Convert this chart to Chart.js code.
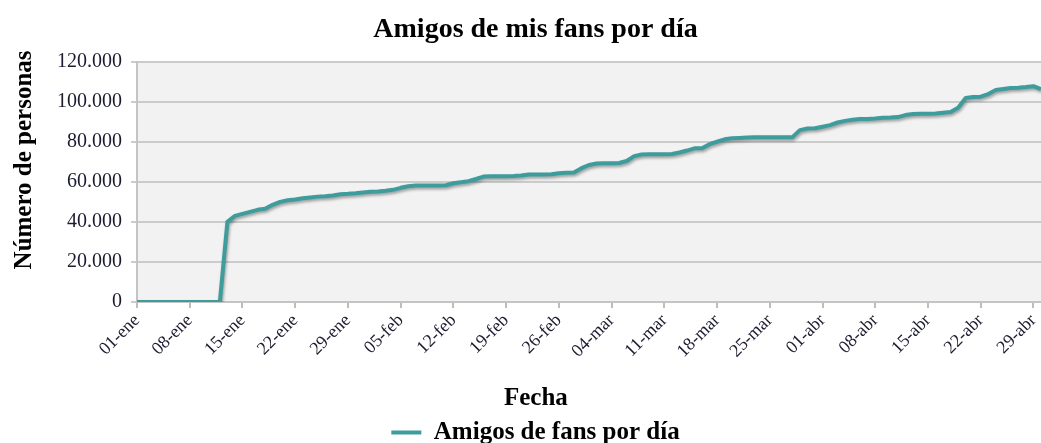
<!DOCTYPE html>
<html>
<head>
<meta charset="utf-8">
<script src="https://cdn.jsdelivr.net/npm/chart.js@4"></script>
<style>
  html, body { margin: 0; padding: 0; background: #fff; }
  #wrap { width: 1041px; height: 443px; }
</style>
</head>
<body>
<div id="wrap"><canvas id="grafico"></canvas></div>
<script>
// Meses y días por mes (2012, año bisiesto)
const meses = ['ene', 'feb', 'mar', 'abr'];
const diasPorMes = [31, 29, 31, 30];

// Etiquetas diarias 01-ene ... 30-abr
const fechas = [];
meses.forEach((m, i) => {
    for (let d = 1; d <= diasPorMes[i]; d++) {
        fechas.push(String(d).padStart(2, '0') + '-' + m);
    }
});

// Amigos de fans por día
const amigos = [
    0, 0, 0, 0, 0, 0, 0, 0, 0, 0, 0, 0,
    40000, 43000, 44000, 45000, 46000, 46500, 48500, 50000, 50800, 51200,
    51800, 52200, 52600, 52800, 53200, 53800, 54000, 54300, 54700, 55000,
    55200, 55500, 56000, 57000, 57800, 58200, 58200, 58200, 58200, 58300,
    59300, 59800, 60300, 61400, 62600, 62800, 62800, 62800, 62900, 63100,
    63600, 63700, 63700, 63800, 64300, 64500, 64600, 66800, 68400, 69100,
    69200, 69200, 69400, 70400, 72800, 73600, 73700, 73700, 73700, 73900,
    74600, 75600, 76700, 76700, 78800, 80000, 81200, 81700, 81900, 82100,
    82200, 82300, 82300, 82300, 82300, 82300, 85800, 86600, 86700, 87500,
    88300, 89600, 90400, 91000, 91300, 91300, 91600, 92000, 92100, 92300,
    93300, 93800, 94000, 94000, 94100, 94500, 94800, 97000, 101800, 102300,
    102500, 103800, 105800, 106300, 106800, 107000, 107300, 107700, 106300
];

const serif = "'Liberation Serif', 'Times New Roman', serif";
const colorLinea = '#3f9c9c';
const nb = (n) => '\u00a0'.repeat(n);

// Fondo gris del área de trazado
const fondoPlugin = {
    id: 'fondo',
    beforeDraw(chart) {
        const { ctx, chartArea } = chart;
        ctx.save();
        ctx.fillStyle = '#f2f2f2';
        ctx.fillRect(chartArea.left, chartArea.top, chartArea.right - chartArea.left, chartArea.bottom - chartArea.top);
        ctx.restore();
    }
};

// Sombra ligera bajo la línea
const sombraPlugin = {
    id: 'sombra',
    beforeDatasetsDraw(chart) {
        const ctx = chart.ctx;
        ctx.save();
        ctx.shadowColor = 'rgba(0,0,0,0.35)';
        ctx.shadowBlur = 3;
        ctx.shadowOffsetY = 2;
        ctx.shadowOffsetX = 1;
    },
    afterDatasetsDraw(chart) {
        chart.ctx.restore();
    }
};

const ctx = document.getElementById('grafico').getContext('2d');
new Chart(ctx, {
    type: 'line',
    data: {
        labels: fechas,
        datasets: [{
            label: 'Amigos de fans por día',
            data: amigos,
            borderColor: colorLinea,
            backgroundColor: colorLinea,
            borderWidth: 4,
            pointRadius: 0,
            tension: 0,
            borderJoinStyle: 'round'
        }]
    },
    options: {
        responsive: true,
        maintainAspectRatio: false,
        animation: false,
        // el margen izquierdo centra título y leyenda como en el original
        layout: { padding: { left: 30, right: 0, top: 0, bottom: -12 } },
        plugins: {
            title: {
                display: true,
                text: 'Amigos de mis fans por día',
                color: '#000',
                font: { family: serif, size: 28, weight: 'bold' },
                padding: { top: 13, bottom: 15 }
            },
            legend: {
                position: 'bottom',
                labels: {
                    usePointStyle: true,
                    pointStyle: 'line',
                    pointStyleWidth: 30,
                    color: '#000',
                    font: { family: serif, size: 25, weight: 'bold' },
                    padding: 0
                }
            },
            tooltip: { enabled: false }
        },
        scales: {
            x: {
                grid: {
                    display: true,
                    drawOnChartArea: false,
                    drawTicks: true,
                    tickLength: 6,
                    color: '#bdbdbd',
                    lineWidth: 2
                },
                border: { color: '#c4c4c4', width: 2 },
                ticks: {
                    autoSkip: false,
                    minRotation: 45,
                    maxRotation: 45,
                    padding: 2,
                    color: '#1c1c30',
                    font: { family: serif, size: 18 },
                    callback: function (val, i) {
                        return i % 7 === 0 ? fechas[i] : null;
                    }
                },
                title: {
                    display: true,
                    text: 'Fecha' + nb(17),
                    color: '#000',
                    font: { family: serif, size: 25, weight: 'bold' },
                    padding: { top: 0, bottom: 6 }
                },
                afterFit(scale) {
                    const leyenda = scale.chart.legend ? scale.chart.legend.height : 0;
                    scale.height = scale.chart.height + 12 - 302 - leyenda;
                    scale.paddingRight = 0;
                }
            },
            y: {
                min: 0,
                max: 120000,
                grid: {
                    color: '#cbcbcb',
                    lineWidth: 2,
                    drawTicks: true,
                    tickLength: 6
                },
                border: { color: '#c4c4c4', width: 2 },
                ticks: {
                    stepSize: 20000,
                    padding: 9,
                    color: '#1c1c30',
                    font: { family: serif, size: 20 },
                    callback: (v) => v.toLocaleString('de-DE')
                },
                title: {
                    display: true,
                    text: nb(7) + 'Número de personas',
                    color: '#000',
                    font: { family: serif, size: 25, weight: 'bold' },
                    padding: { top: -20, bottom: 0 }
                },
                afterFit(scale) { scale.width = 107; }
            }
        }
    },
    plugins: [fondoPlugin, sombraPlugin]
});
</script>
</body>
</html>
